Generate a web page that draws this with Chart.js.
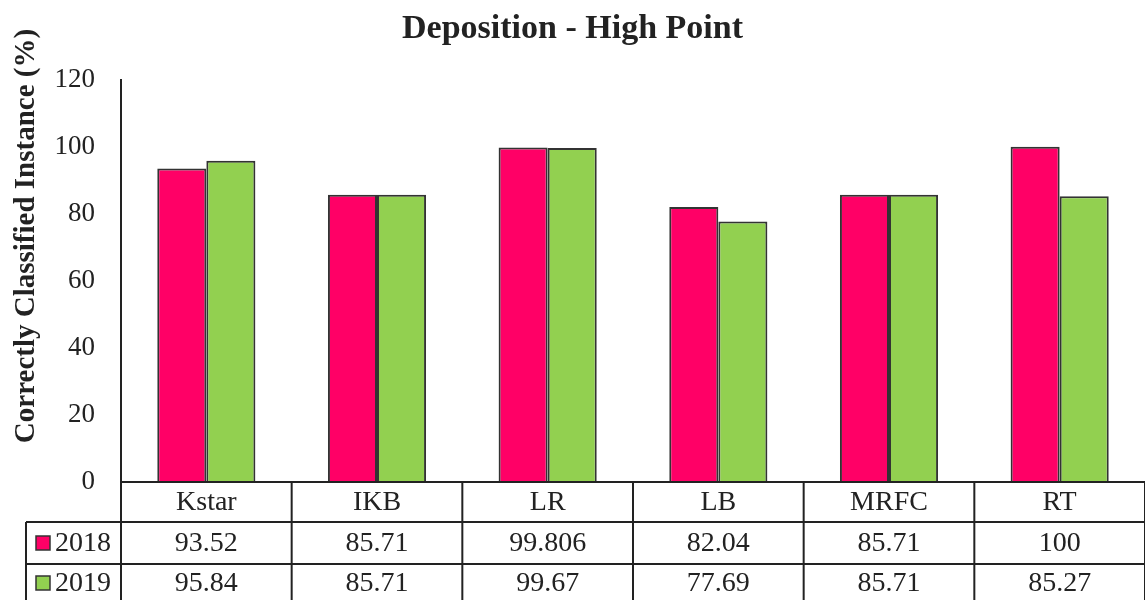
<!DOCTYPE html>
<html>
<head>
<meta charset="utf-8">
<script src="https://cdn.jsdelivr.net/npm/chart.js@4/dist/chart.umd.min.js"></script>
<style>
  html, body { margin: 0; padding: 0; background: #fff; }
  #wrap { width: 1145px; height: 600px; }
</style>
</head>
<body>
<div id="wrap"><canvas id="myChart" width="1145" height="600"></canvas></div>
<script>
// chart data
var categories = ["Kstar", "IKB", "LR", "LB", "MRFC", "RT"];
var seriesNames = ["2018", "2019"];
var values2018 = [93.52, 85.71, 99.806, 82.04, 85.71, 100];
var values2019 = [95.84, 85.71, 99.67, 77.69, 85.71, 85.27];
var yTicks = [0, 20, 40, 60, 80, 100, 120];

var colors = ["#FF0066", "#92D050"];
var ink = "#222";
var serif = "'Liberation Serif', 'Times New Roman', serif";

// draws the y title and the data table under the plot
var tablePlugin = {
    id: 'dataTable',
    afterDraw: function(chart) {
        var ctx = chart.ctx;
        var x = chart.scales.x;
        var area = chart.chartArea;
        var rowTop = area.bottom;
        var row1 = 522, row2 = 564, tableBottom = 600;
        var leftEdge = 26;
        var rows = [values2018, values2019];

        ctx.save();
        ctx.strokeStyle = ink;
        ctx.lineWidth = 2;
        ctx.beginPath();
        // horizontal lines
        ctx.moveTo(area.left, rowTop); ctx.lineTo(area.right, rowTop);
        ctx.moveTo(leftEdge, row1); ctx.lineTo(area.right, row1);
        ctx.moveTo(leftEdge, row2); ctx.lineTo(area.right, row2);
        // vertical lines
        ctx.moveTo(leftEdge, row1); ctx.lineTo(leftEdge, tableBottom);
        for (var i = 0; i <= categories.length; i++) {
            var bx = x.getPixelForValue(i - 0.5);
            ctx.moveTo(bx, rowTop); ctx.lineTo(bx, tableBottom);
        }
        ctx.stroke();

        ctx.fillStyle = ink;
        ctx.font = "28px " + serif;
        ctx.textAlign = "center";
        ctx.textBaseline = "middle";
        for (var c = 0; c < categories.length; c++) {
            var cx = x.getPixelForValue(c);
            ctx.fillText(categories[c], cx, (rowTop + row1) / 2 + 1);
            ctx.fillText(String(rows[0][c]), cx, (row1 + row2) / 2 + 1);
            ctx.fillText(String(rows[1][c]), cx, (row2 + tableBottom) / 2 + 2);
        }

        // series keys
        var rowMids = [(row1 + row2) / 2, (row2 + tableBottom) / 2 + 1];
        for (var s = 0; s < seriesNames.length; s++) {
            ctx.fillStyle = colors[s];
            ctx.fillRect(36, rowMids[s] - 7, 14, 14);
            ctx.lineWidth = 1.5;
            ctx.strokeStyle = "#333";
            ctx.strokeRect(36, rowMids[s] - 7, 14, 14);
            ctx.fillStyle = ink;
            ctx.textAlign = "left";
            ctx.fillText(seriesNames[s], 55, rowMids[s] + 1);
        }

        // y axis title
        ctx.translate(27, 236);
        ctx.rotate(-Math.PI / 2);
        ctx.textAlign = "center";
        ctx.font = "bold 29px " + serif;
        ctx.fillText("Correctly Classified Instance (%)", 0, 0);
        ctx.restore();
    }
};

var ctx = document.getElementById('myChart').getContext('2d');
var chart = new Chart(ctx, {
    type: 'bar',
    data: {
        labels: categories,
        datasets: [
            {
                label: seriesNames[0],
                data: values2018,
                backgroundColor: colors[0],
                borderColor: "#333",
                borderWidth: 2
            },
            {
                label: seriesNames[1],
                data: values2019,
                backgroundColor: colors[1],
                borderColor: "#333",
                borderWidth: 2
            }
        ]
    },
    options: {
        responsive: false,
        animation: false,
        layout: { padding: { left: 0, right: 0, top: 0, bottom: 118 } },
        datasets: { bar: { categoryPercentage: 0.575, barPercentage: 1.0 } },
        plugins: {
            legend: { display: false },
            tooltip: { enabled: false },
            title: {
                display: true,
                text: "Deposition - High Point",
                color: ink,
                font: { family: serif, size: 34, weight: 'bold', lineHeight: 1.2 },
                padding: { top: 9, bottom: 30 }
            }
        },
        scales: {
            x: {
                grid: { display: false, drawTicks: false },
                border: { display: false },
                ticks: { display: false },
                afterFit: function(scale) { scale.height = 0; }
            },
            y: {
                min: 0,
                max: 120,
                afterBuildTicks: function(scale) {
                    scale.ticks = yTicks.map(function(v) { return { value: v }; });
                },
                grid: { display: false, drawTicks: false },
                border: { display: true, color: ink, width: 2 },
                ticks: {
                    color: ink,
                    padding: 26,
                    font: { family: serif, size: 27 }
                },
                afterFit: function(scale) { scale.width = 121; }
            }
        }
    },
    plugins: [tablePlugin]
});
</script>
</body>
</html>
